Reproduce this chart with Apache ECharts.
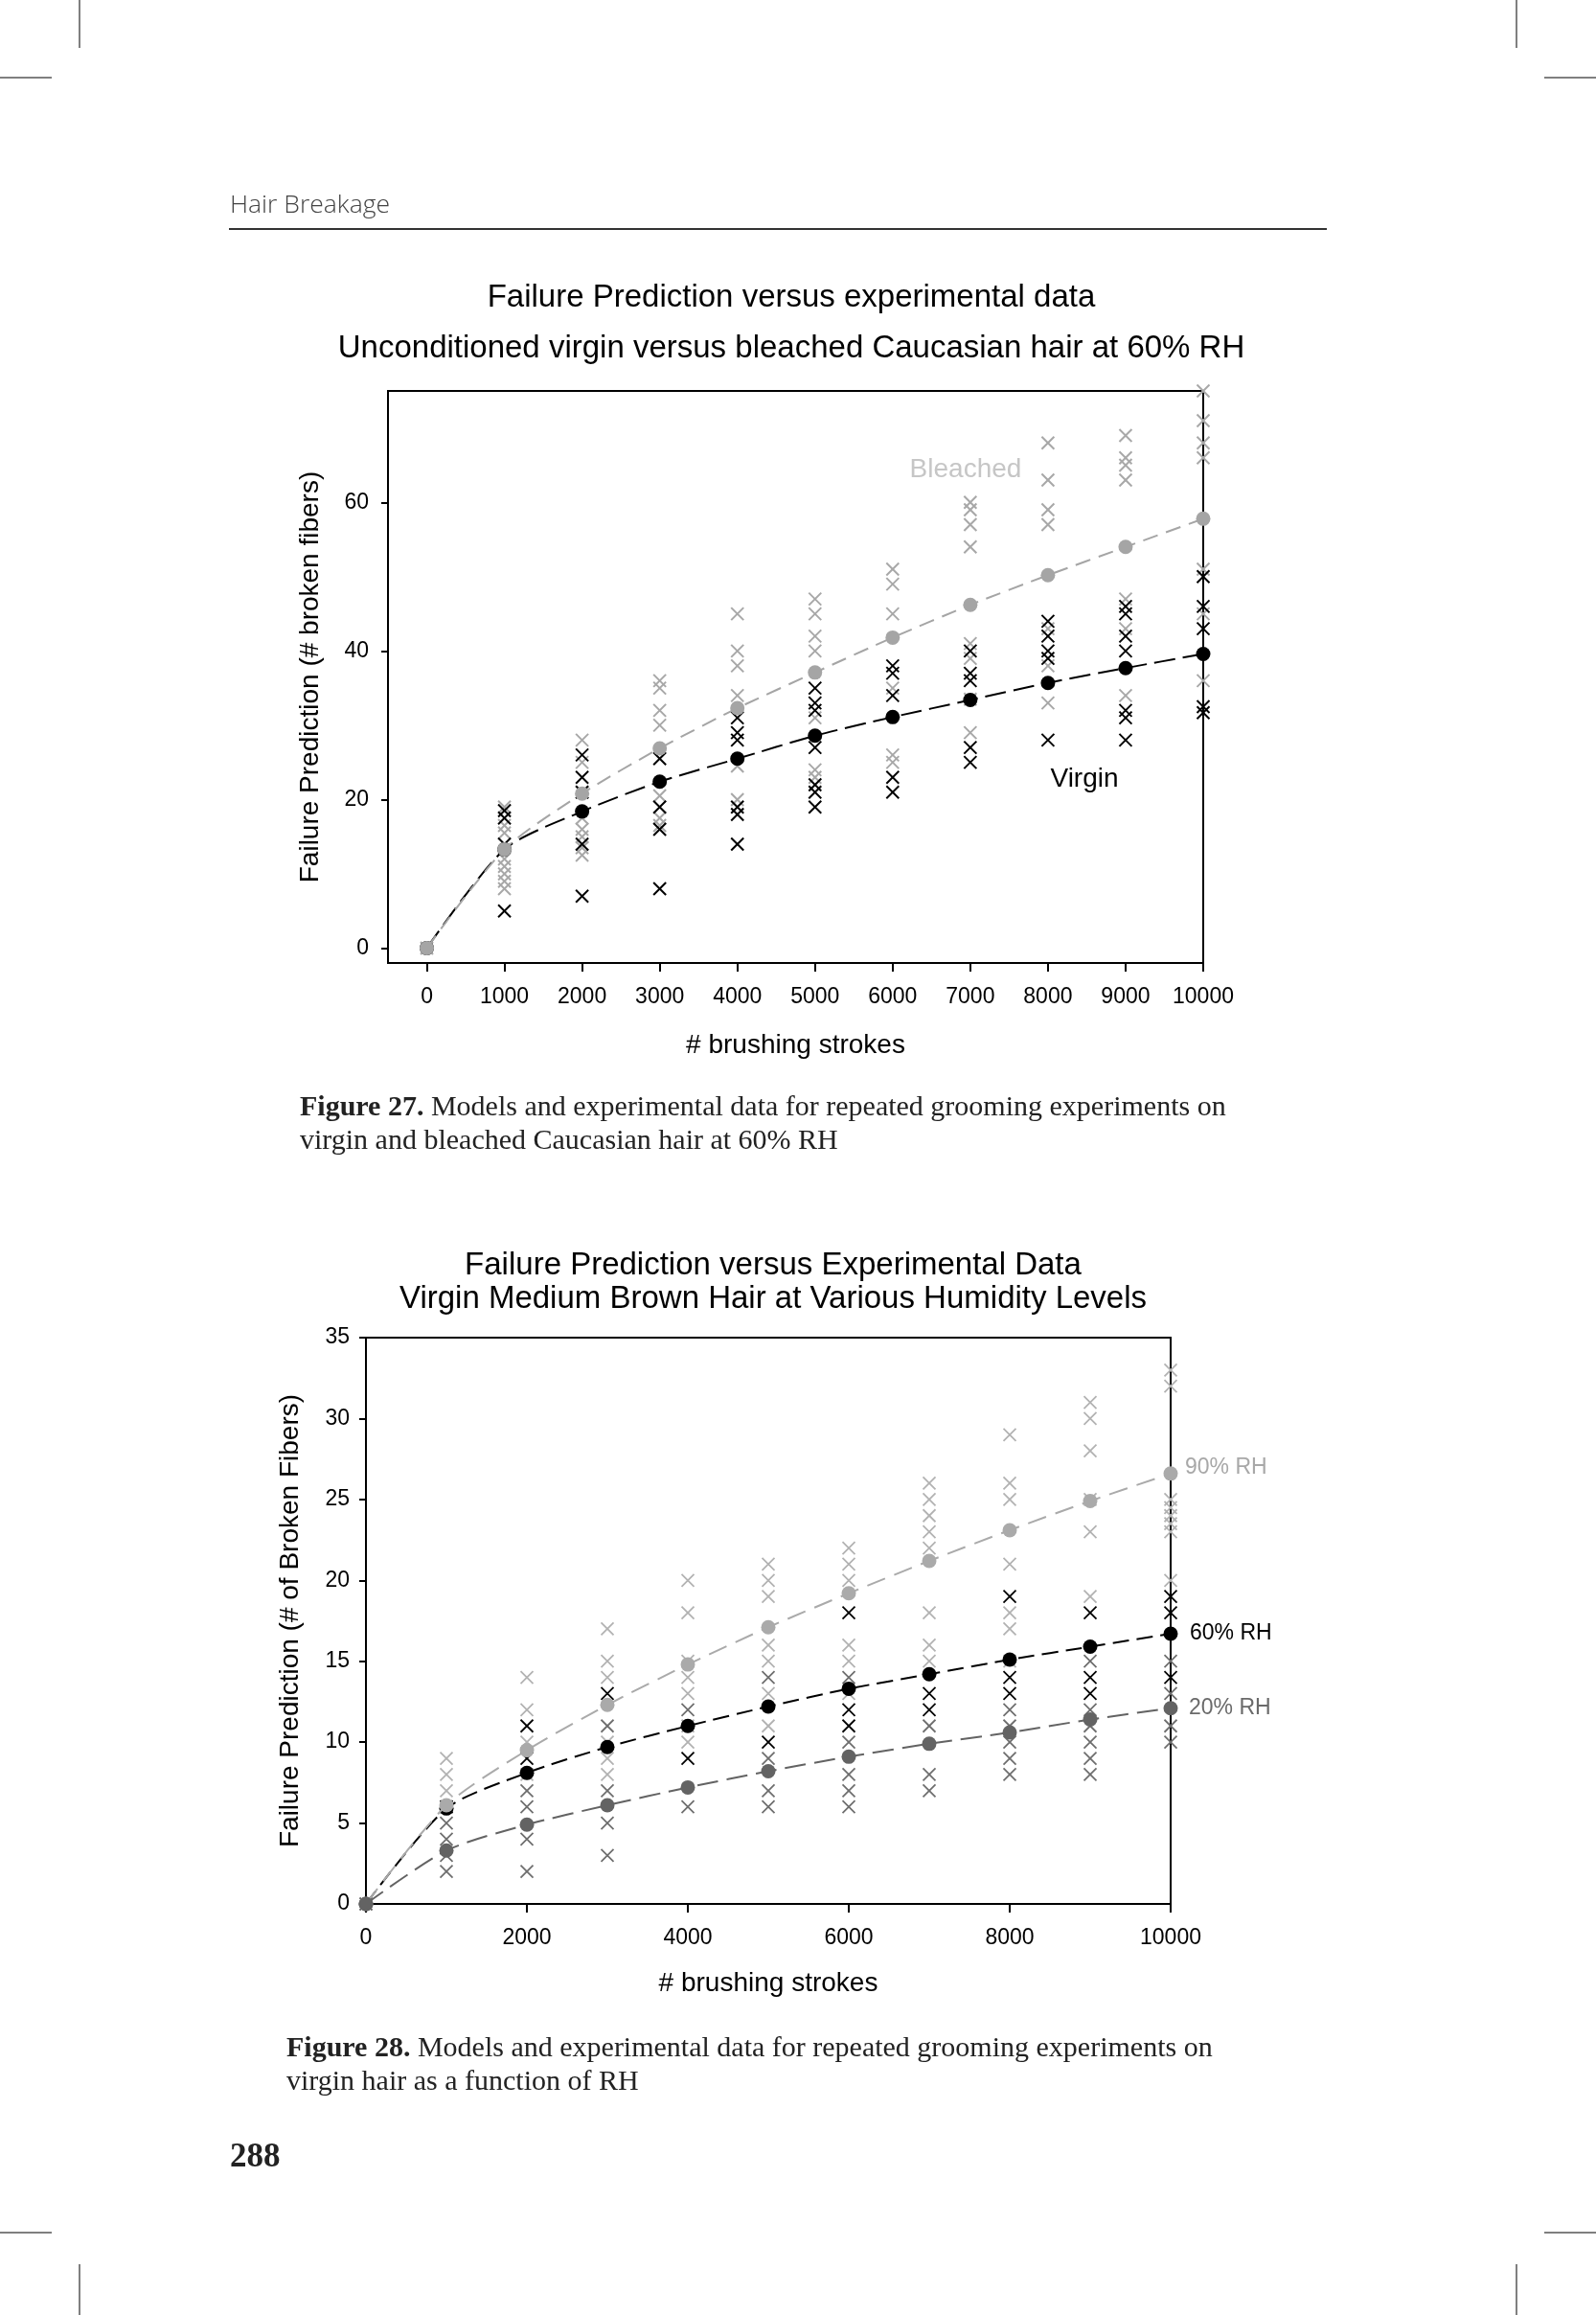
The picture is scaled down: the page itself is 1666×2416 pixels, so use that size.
<!DOCTYPE html>
<html><head><meta charset="utf-8">
<script src="https://cdn.jsdelivr.net/npm/echarts@6/dist/echarts.min.js"></script>
<style>html,body{margin:0;padding:0;background:#fff}#c{width:1666px;height:2416px}</style>
</head><body><div id="c"></div>
<script>
// ---------- Figure 27 data ----------
const topStrokes = [0, 1000, 2000, 3000, 4000, 5000, 6000, 7000, 8000, 9000, 10000];
const topYTicks = [0, 20, 40, 60];
const bleachedModel = [0, 13.3, 20.8, 26.9, 32.3, 37.1, 41.8, 46.2, 50.2, 54.0, 57.8];
const virginModel = [0, 13.3, 18.4, 22.4, 25.5, 28.6, 31.1, 33.4, 35.7, 37.7, 39.6];
const bleachedObs = [
  [0],
  [19, 16.5, 15.5, 12, 11, 10, 9, 8],
  [28, 25, 21, 17.5, 16, 15, 13.5, 12.5],
  [36, 35, 32, 30, 20.5, 17.5, 16.5],
  [45, 40, 38, 34, 24.5, 20],
  [47, 45, 42, 40, 31, 24, 23],
  [51, 49, 45, 35, 26, 25],
  [60, 59, 57, 54, 41, 39, 33.5, 29],
  [68, 63, 59, 57, 43, 38, 33],
  [69, 66, 65, 63, 47, 43, 34],
  [75, 71, 68, 66, 51, 45, 36]
];
const virginObs = [
  [],
  [18.5, 17.5, 14, 5],
  [26, 23, 21, 14, 7],
  [25.5, 19, 16, 8],
  [31, 29, 28, 19, 18, 14],
  [35, 33, 32, 27, 22, 21, 19],
  [38, 37, 34, 23, 21],
  [40, 37, 36, 27, 25],
  [44, 42, 40, 39, 28],
  [46, 45, 42, 40, 32, 31, 28],
  [50, 46, 43, 32.5, 31.7]
];

// ---------- Figure 28 data ----------
const bottomStrokes = [0, 1000, 2000, 3000, 4000, 5000, 6000, 7000, 8000, 9000, 10000];
const rh90Model = [0, 6.1, 9.5, 12.3, 14.8, 17.1, 19.2, 21.2, 23.1, 24.9, 26.6];
const rh60Model = [0, 5.9, 8.1, 9.7, 11.0, 12.2, 13.3, 14.2, 15.1, 15.9, 16.7];
const rh20Model = [0, 3.3, 4.9, 6.1, 7.2, 8.2, 9.1, 9.9, 10.6, 11.4, 12.1];
const rh90Obs = [
  [0],
  [9, 8, 7, 6],
  [14, 12, 10, 8],
  [17, 15, 14, 10, 9, 8],
  [20, 18, 15, 14, 13, 11, 10],
  [21, 20, 19, 16, 15, 13, 11],
  [22, 21, 20, 16, 15, 13],
  [26, 25, 24, 23, 22, 18, 16, 15],
  [29, 26, 25, 21, 18, 17, 15],
  [31, 30, 28, 25, 23, 19],
  [33, 32, 25, 24.5, 24, 23.5, 23, 20]
];
const rh60Obs = [
  [],
  [6],
  [11, 9],
  [13],
  [9],
  [10],
  [18, 12, 11],
  [13, 12],
  [19, 14, 13],
  [18, 14, 13],
  [19, 18, 14]
];
const rh20Obs = [
  [0],
  [5, 4, 3, 2],
  [7, 6, 4, 2],
  [11, 7, 5, 3],
  [12, 6],
  [14, 9, 7, 6],
  [14, 10, 8, 7, 6],
  [11, 8, 7],
  [12, 11, 10, 9, 8],
  [15, 12, 11, 10, 9, 8],
  [15, 13, 11, 10]
];

const SANS = '"Liberation Sans", Arial, sans-serif';
const SERIF = '"Liberation Serif", "DejaVu Serif", serif';

function pairs(xs, ys) { return xs.map((x, i) => [x, ys[i]]); }
function flatObs(xs, obs) { const out = []; xs.forEach((x, i) => obs[i].forEach(v => out.push([x, v]))); return out; }
const plain = v => String(v);

function crossSeries(name, data, gi, color, half, lw) {
  return {
    type: 'custom', name, xAxisIndex: gi, yAxisIndex: gi, data, z: 2, clip: false, silent: true,
    renderItem(params, api) {
      const p = api.coord([api.value(0), api.value(1)]);
      return { type: 'group', children: [
        { type: 'line', shape: { x1: p[0] - half, y1: p[1] - half, x2: p[0] + half, y2: p[1] + half }, style: { stroke: color, lineWidth: lw } },
        { type: 'line', shape: { x1: p[0] - half, y1: p[1] + half, x2: p[0] + half, y2: p[1] - half }, style: { stroke: color, lineWidth: lw } }
      ]};
    }
  };
}
function modelSeries(name, data, gi, color, dash, size, z, endLabel) {
  const s = {
    type: 'line', name, xAxisIndex: gi, yAxisIndex: gi, data, symbol: 'circle', symbolSize: size,
    showAllSymbol: true, smooth: 0.25, clip: false, z, silent: true,
    itemStyle: { color, borderWidth: 0 },
    lineStyle: { color, width: 2, type: dash }
  };
  if (endLabel) s.endLabel = endLabel;
  return s;
}

const axisLineStyle = { show: true, onZero: false, lineStyle: { color: '#000', width: 2 } };
const tickStyle = { color: '#000', width: 2 };

const option = {
  animation: false,
  backgroundColor: '#fff',
  textStyle: { fontFamily: SANS },
  grid: [
    { left: 405, top: 408, width: 851, height: 597, show: true, borderColor: '#000', borderWidth: 2, backgroundColor: 'transparent', containLabel: false, outerBoundsMode: 'none' },
    { left: 382, top: 1396, width: 840, height: 591, show: true, borderColor: '#000', borderWidth: 2, backgroundColor: 'transparent', containLabel: false, outerBoundsMode: 'none' }
  ],
  xAxis: [
    { gridIndex: 0, type: 'value', min: -500, max: 10000,
      axisLine: axisLineStyle,
      axisTick: { show: true, length: 9, customValues: topStrokes, lineStyle: tickStyle },
      axisLabel: { customValues: topStrokes, formatter: plain, color: '#000', fontSize: 23, margin: 24, fontFamily: SANS },
      splitLine: { show: false },
      name: '# brushing strokes', nameLocation: 'middle', nameGap: 72, nameMoveOverlap: false,
      nameTextStyle: { fontSize: 28, color: '#000', fontFamily: SANS } },
    { gridIndex: 1, type: 'value', min: 0, max: 10000, interval: 2000,
      axisLine: axisLineStyle,
      axisTick: { show: true, length: 9, lineStyle: tickStyle },
      axisLabel: { formatter: plain, color: '#000', fontSize: 23, margin: 24, fontFamily: SANS },
      splitLine: { show: false },
      name: '# brushing strokes', nameLocation: 'middle', nameGap: 69, nameMoveOverlap: false,
      nameTextStyle: { fontSize: 28, color: '#000', fontFamily: SANS } }
  ],
  yAxis: [
    { gridIndex: 0, type: 'value', min: -2, max: 75,
      axisLine: axisLineStyle,
      axisTick: { show: true, length: 7, customValues: topYTicks, lineStyle: tickStyle },
      axisLabel: { customValues: topYTicks, formatter: plain, color: '#000', fontSize: 23, margin: 20, fontFamily: SANS },
      splitLine: { show: false },
      name: 'Failure Prediction (# broken fibers)', nameLocation: 'middle', nameGap: 67, nameRotate: 90, nameMoveOverlap: false,
      nameTextStyle: { fontSize: 28, color: '#000', fontFamily: SANS } },
    { gridIndex: 1, type: 'value', min: 0, max: 35, interval: 5,
      axisLine: axisLineStyle,
      axisTick: { show: true, length: 7, lineStyle: tickStyle },
      axisLabel: { formatter: plain, color: '#000', fontSize: 23, margin: 17, fontFamily: SANS },
      splitLine: { show: false },
      name: 'Failure Prediction (# of Broken Fibers)', nameLocation: 'middle', nameGap: 65, nameRotate: 90, nameMoveOverlap: false,
      nameTextStyle: { fontSize: 28, color: '#000', fontFamily: SANS } }
  ],
  series: [
    crossSeries('Bleached data', flatObs(topStrokes, bleachedObs), 0, '#a8a8a8', 6.5, 2),
    crossSeries('Virgin data', flatObs(topStrokes, virginObs), 0, '#000000', 6.5, 2),
    modelSeries('Virgin model', pairs(topStrokes, virginModel), 0, '#000000', [22, 8], 15, 4),
    modelSeries('Bleached model', pairs(topStrokes, bleachedModel), 0, '#a5a5a5', [16, 9], 15, 5),

    crossSeries('90% RH data', flatObs(bottomStrokes, rh90Obs), 1, '#b2b2b2', 6.5, 1.8),
    crossSeries('20% RH data', flatObs(bottomStrokes, rh20Obs), 1, '#6e6e6e', 6.5, 1.8),
    crossSeries('60% RH data', flatObs(bottomStrokes, rh60Obs), 1, '#000000', 6.5, 1.8),
    modelSeries('60% RH', pairs(bottomStrokes, rh60Model), 1, '#000000', [17, 8], 15, 4,
      { show: true, formatter: '60% RH', color: '#000', fontSize: 23, fontFamily: SANS, distance: 20, offset: [0, 0] }),
    modelSeries('90% RH', pairs(bottomStrokes, rh90Model), 1, '#aaaaaa', [20, 10], 15, 5,
      { show: true, formatter: '90% RH', color: '#a8a8a8', fontSize: 23, fontFamily: SANS, distance: 15, offset: [0, -6] }),
    modelSeries('20% RH', pairs(bottomStrokes, rh20Model), 1, '#636363', [22, 9], 15, 6,
      { show: true, formatter: '20% RH', color: '#6a6a6a', fontSize: 23, fontFamily: SANS, distance: 19, offset: [0, 0] })
  ],
  graphic: [
    // crop marks
    { type: 'line', shape: { x1: 83, y1: 0, x2: 83, y2: 50 }, style: { stroke: '#000', lineWidth: 1 } },
    { type: 'line', shape: { x1: 1583, y1: 0, x2: 1583, y2: 50 }, style: { stroke: '#000', lineWidth: 1 } },
    { type: 'line', shape: { x1: 0, y1: 81, x2: 54, y2: 81 }, style: { stroke: '#000', lineWidth: 1 } },
    { type: 'line', shape: { x1: 1612, y1: 81, x2: 1666, y2: 81 }, style: { stroke: '#000', lineWidth: 1 } },
    { type: 'line', shape: { x1: 0, y1: 2330, x2: 54, y2: 2330 }, style: { stroke: '#000', lineWidth: 1 } },
    { type: 'line', shape: { x1: 1612, y1: 2330, x2: 1666, y2: 2330 }, style: { stroke: '#000', lineWidth: 1 } },
    { type: 'line', shape: { x1: 83, y1: 2363, x2: 83, y2: 2416 }, style: { stroke: '#000', lineWidth: 1 } },
    { type: 'line', shape: { x1: 1583, y1: 2363, x2: 1583, y2: 2416 }, style: { stroke: '#000', lineWidth: 1 } },
    // running head
    { type: 'text', x: 240, y: 214, style: { text: 'Hair Breakage', fill: '#444', font: '300 26.5px "Open Sans", "Noto Sans", sans-serif', verticalAlign: 'middle', align: 'left' } },
    { type: 'line', shape: { x1: 239, y1: 239, x2: 1385, y2: 239 }, style: { stroke: '#333', lineWidth: 2 } },
    // figure 27 title
    { type: 'text', x: 826, y: 311, style: { text: 'Failure Prediction versus experimental data', fill: '#000', font: '33px ' + SANS, align: 'center', verticalAlign: 'middle' } },
    { type: 'text', x: 826, y: 364, style: { text: 'Unconditioned virgin versus bleached Caucasian hair at 60% RH', fill: '#000', font: '33px ' + SANS, align: 'center', verticalAlign: 'middle' } },
    { type: 'text', x: 1008, y: 490, style: { text: 'Bleached', fill: '#c6c6c6', font: '28px ' + SANS, align: 'center', verticalAlign: 'middle' } },
    { type: 'text', x: 1132, y: 813, style: { text: 'Virgin', fill: '#000', font: '28px ' + SANS, align: 'center', verticalAlign: 'middle' } },
    // caption 27
    { type: 'text', x: 313, y: 1156, style: { text: '{b|Figure 27.} Models and experimental data for repeated grooming experiments on', fill: '#222', font: '30px ' + SERIF, verticalAlign: 'middle', rich: { b: { fontWeight: 'bold', fontSize: 30, fontFamily: SERIF, fill: '#222' } } } },
    { type: 'text', x: 313, y: 1191, style: { text: 'virgin and bleached Caucasian hair at 60% RH', fill: '#222', font: '30px ' + SERIF, verticalAlign: 'middle' } },
    // figure 28 title
    { type: 'text', x: 807, y: 1321, style: { text: 'Failure Prediction versus Experimental Data', fill: '#000', font: '33px ' + SANS, align: 'center', verticalAlign: 'middle' } },
    { type: 'text', x: 807, y: 1356, style: { text: 'Virgin Medium Brown Hair at Various Humidity Levels', fill: '#000', font: '33px ' + SANS, align: 'center', verticalAlign: 'middle' } },
    // caption 28
    { type: 'text', x: 299, y: 2138, style: { text: '{b|Figure 28.} Models and experimental data for repeated grooming experiments on', fill: '#222', font: '30px ' + SERIF, verticalAlign: 'middle', rich: { b: { fontWeight: 'bold', fontSize: 30, fontFamily: SERIF, fill: '#222' } } } },
    { type: 'text', x: 299, y: 2173, style: { text: 'virgin hair as a function of RH', fill: '#222', font: '30px ' + SERIF, verticalAlign: 'middle' } },
    // page number
    { type: 'text', x: 240, y: 2252, style: { text: '288', fill: '#222', font: 'bold 35px ' + SERIF, verticalAlign: 'middle' } }
  ]
};
const chart = echarts.init(document.getElementById('c'), null, { renderer: 'canvas', width: 1666, height: 2416 });
chart.setOption(option);
</script>
</body></html>
